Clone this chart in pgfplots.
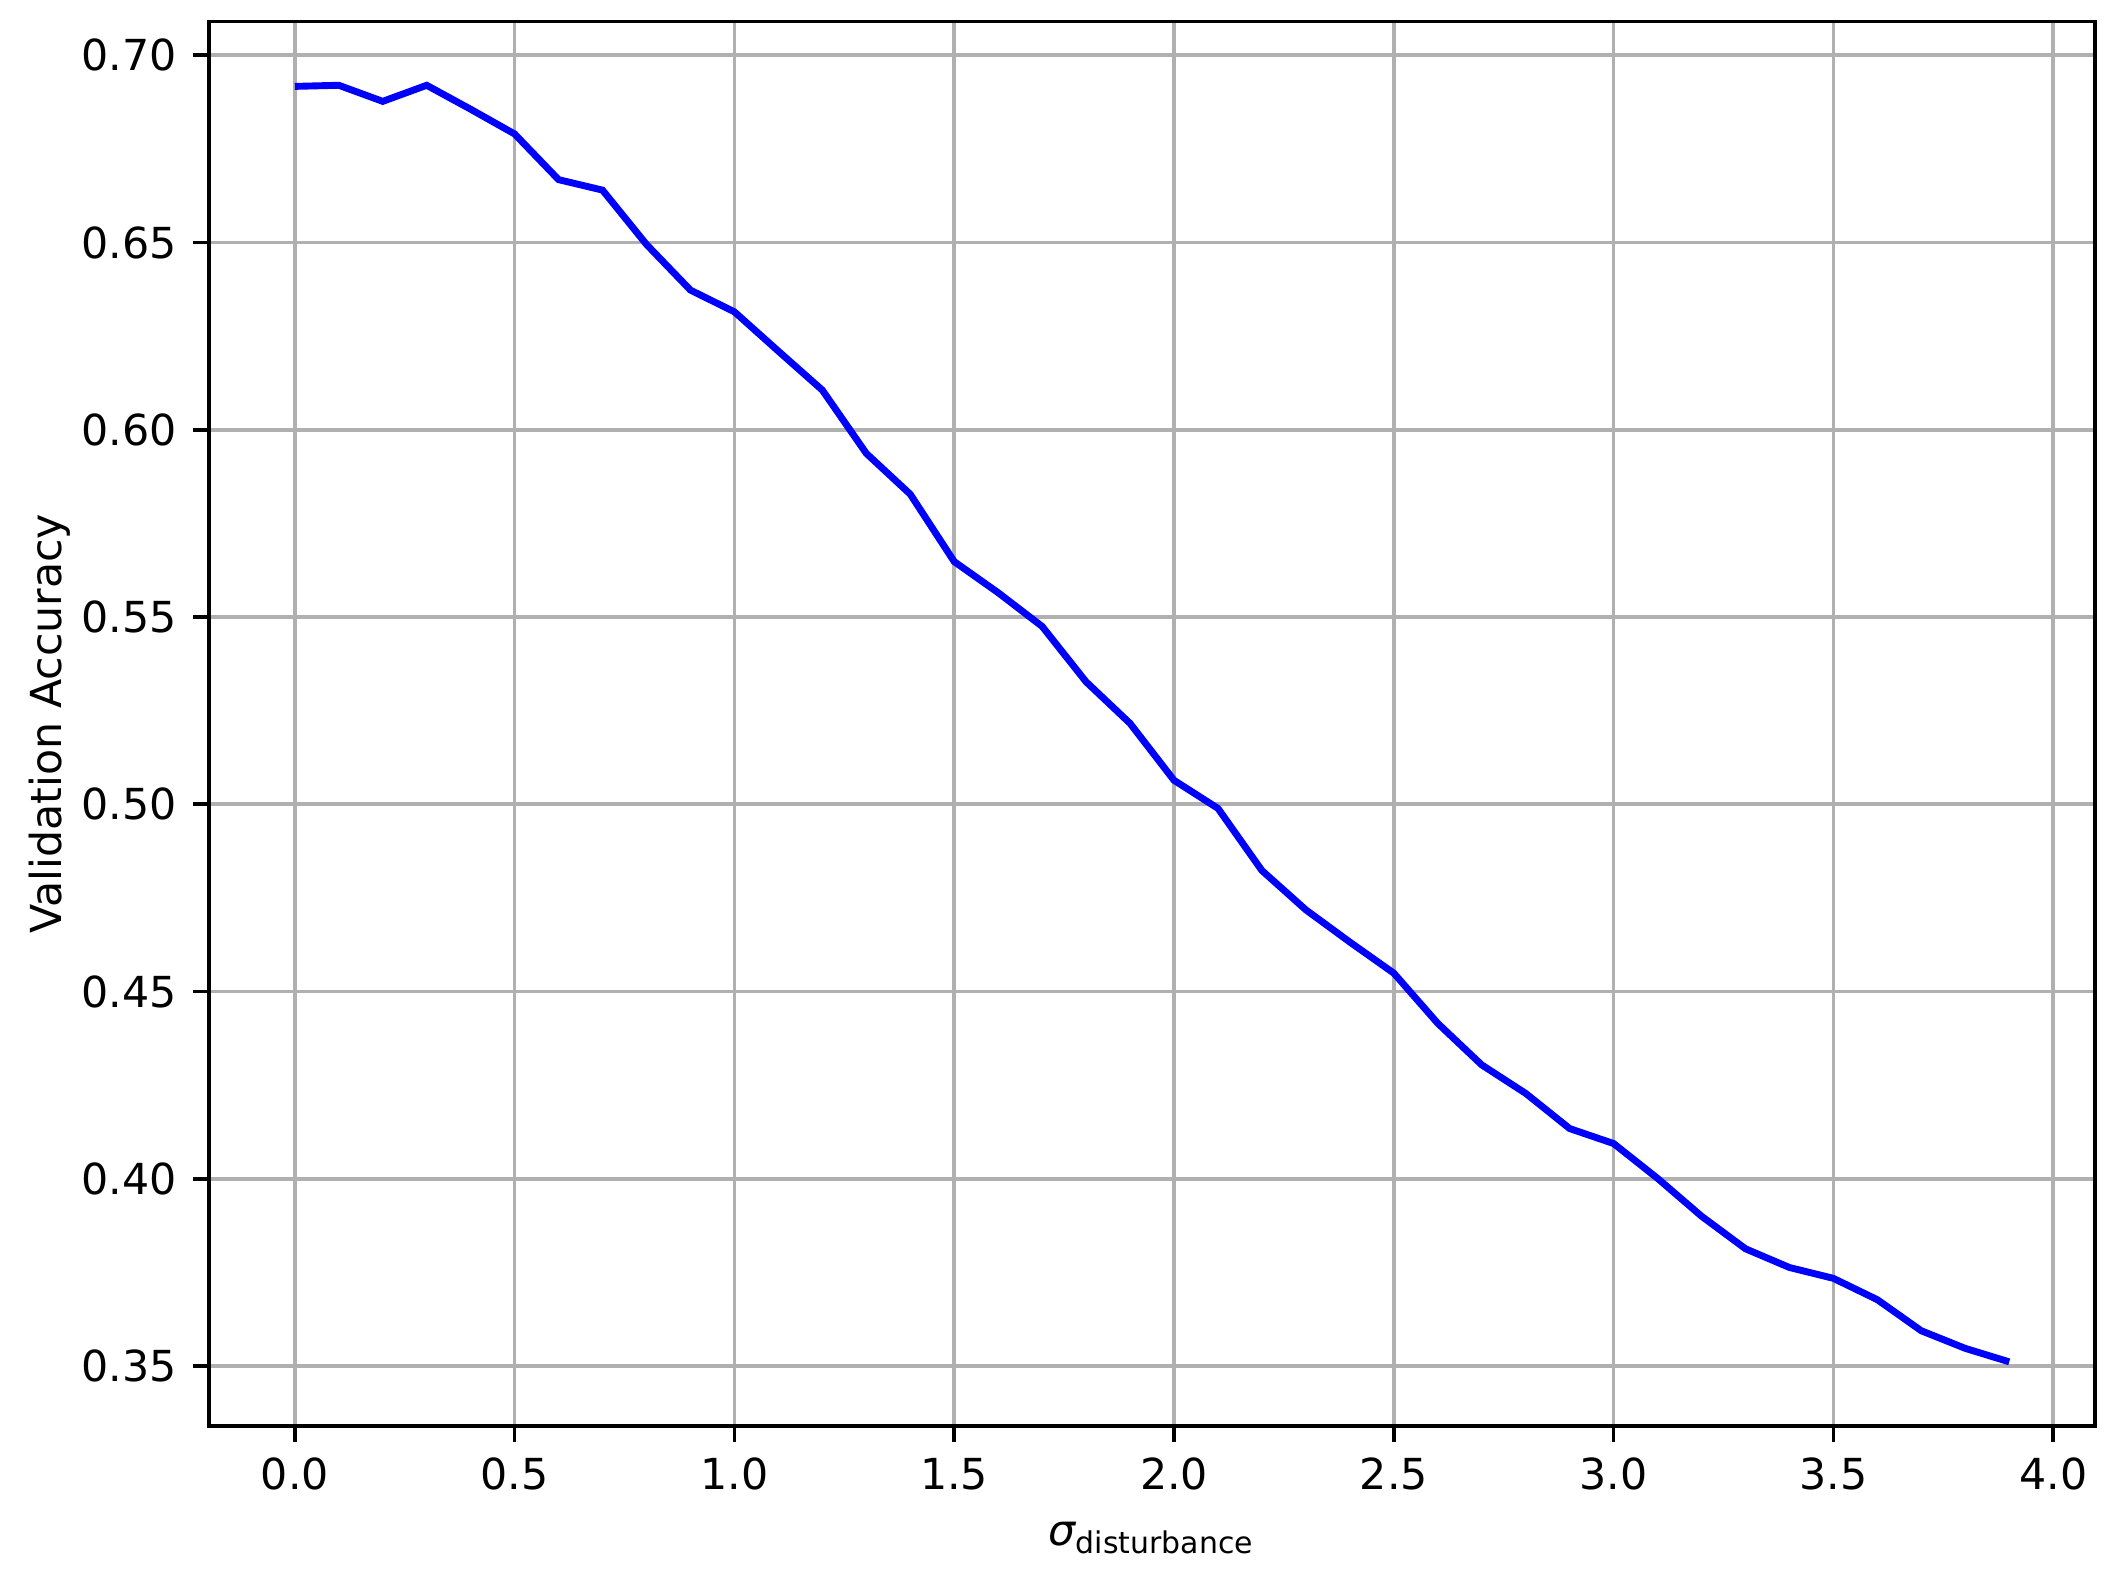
\documentclass[border=0pt]{standalone}
\usepackage{pgfplots}
\pgfplotsset{compat=1.18}
\usepackage{fontspec}
\setmainfont{DejaVu Sans}
\definecolor{mplgrid}{HTML}{B0B0B0}

\begin{document}
\begin{tikzpicture}
% fixed page: axis box plus matplotlib-like margins
\useasboundingbox (-45.5pt,-33.3pt) rectangle (415.2pt,310.3pt);
\begin{axis}[
    at={(0,0)}, anchor=south west,
    width=410.4pt, height=305.6pt, scale only axis,
    xmin=-0.195, xmax=4.095, ymin=0.334, ymax=0.709,
    xtick={0,0.5,...,4.0}, ytick={0.35,0.40,...,0.71},
    /pgf/number format/assume math mode=true,
    xticklabel style={/pgf/number format/fixed, /pgf/number format/fixed zerofill, /pgf/number format/precision=1},
    yticklabel style={/pgf/number format/fixed, /pgf/number format/fixed zerofill, /pgf/number format/precision=2},
    ticklabel style={font=\fontsize{9.3}{11}\selectfont},
    tick align=outside, tick pos=left,
    major tick length=3.5pt,
    every tick/.style={black, line width=0.8pt},
    axis line style={line width=0.8pt},
    grid=major, major grid style={mplgrid, line width=0.8pt},
    xlabel={{\itshape σ}\textsubscript{disturbance}},
    ylabel={Validation Accuracy},
    label style={font=\fontsize{9.3}{11}\selectfont},
    xlabel style={yshift=0pt},
    ylabel style={yshift=-4.5pt},
]
\addplot[blue, line width=1.5pt] coordinates {
(0.0,0.6917) (0.1,0.6920) (0.2,0.6877) (0.3,0.6920) (0.4,0.6856)
(0.5,0.6790) (0.6,0.6668) (0.7,0.6640) (0.8,0.6495) (0.9,0.6373)
(1.0,0.6315) (1.1,0.6210) (1.2,0.6106) (1.3,0.5937) (1.4,0.5828)
(1.5,0.5648) (1.6,0.5565) (1.7,0.5475) (1.8,0.5327) (1.9,0.5216)
(2.0,0.5064) (2.1,0.4989) (2.2,0.4823) (2.3,0.4718) (2.4,0.4632)
(2.5,0.4549) (2.6,0.4415) (2.7,0.4304) (2.8,0.4228) (2.9,0.4134)
(3.0,0.4094) (3.1,0.4001) (3.2,0.3900) (3.3,0.3813) (3.4,0.3763)
(3.5,0.3734) (3.6,0.3677) (3.7,0.3594) (3.8,0.3547) (3.9,0.3511)
};
\end{axis}
\end{tikzpicture}
\end{document}
